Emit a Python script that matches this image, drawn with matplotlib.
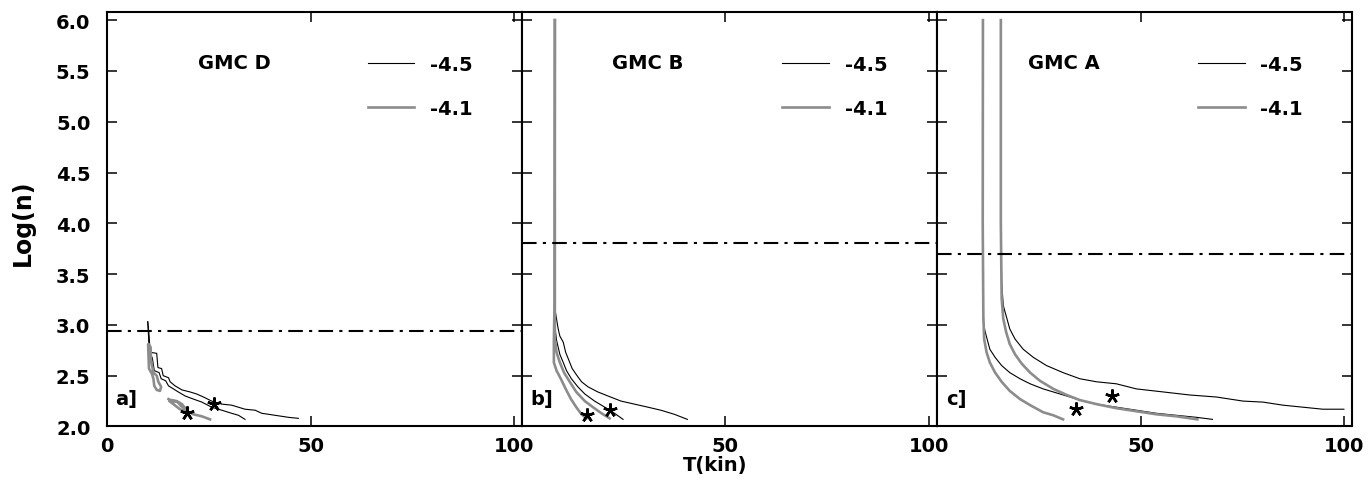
import matplotlib
matplotlib.use('Agg')
import matplotlib.pyplot as plt

# GMC D
D_t_hi = [10.0, 10.3, 10.6, 12.2, 12.5, 13.4, 13.8, 15.1, 15.5, 16.7, 18.4, 20.4, 22.0, 23.7, 25.7, 28.2, 30.6, 33.9, 36.4, 38.0, 41.3, 44.6, 47.0]
D_n_hi = [3.03, 2.91, 2.73, 2.72, 2.58, 2.57, 2.50, 2.48, 2.44, 2.40, 2.36, 2.34, 2.32, 2.29, 2.25, 2.22, 2.21, 2.17, 2.16, 2.13, 2.11, 2.09, 2.08]
D_t_lo = [10.0, 10.2, 10.3, 11.1, 11.6, 12.8, 13.3, 14.4, 15.1, 16.3, 17.5, 19.2, 21.2, 23.3, 25.7, 28.2, 30.6, 32.3, 33.9]
D_n_lo = [3.03, 2.88, 2.71, 2.68, 2.55, 2.53, 2.47, 2.45, 2.40, 2.37, 2.34, 2.30, 2.27, 2.24, 2.19, 2.16, 2.13, 2.11, 2.07]
D_t_g1 = [10.1, 10.2, 10.3, 11.0, 11.4, 11.6, 12.2, 13.0, 13.3, 12.6, 12.2, 11.4, 10.8, 10.7, 10.2]
D_n_g1 = [2.80, 2.68, 2.57, 2.52, 2.47, 2.40, 2.36, 2.35, 2.39, 2.44, 2.50, 2.53, 2.65, 2.78, 2.81]
D_t_g2 = [15.1, 16.1, 17.4, 18.2, 19.2, 18.4, 17.1, 15.9, 15.3, 16.3, 17.9, 19.6, 21.2, 23.3, 25.3]
D_n_g2 = [2.27, 2.25, 2.24, 2.20, 2.18, 2.22, 2.25, 2.26, 2.25, 2.22, 2.17, 2.15, 2.12, 2.10, 2.07]
D_star_t = [26.3, 19.6]
D_star_n = [2.22, 2.13]
D_crit = 2.94

# GMC B
B_t_hi = [8.14, 8.14, 8.55, 8.96, 9.37, 10.2, 10.8, 11.6, 12.4, 13.6, 14.7, 16.3, 18.7, 21.2, 24.4, 27.7, 31.0, 34.2, 37.5, 40.7]
B_n_hi = [6.0, 3.16, 3.06, 2.96, 2.89, 2.83, 2.73, 2.65, 2.57, 2.50, 2.44, 2.39, 2.34, 2.30, 2.25, 2.22, 2.19, 2.16, 2.12, 2.07]
B_t_lo = [8.14, 8.14, 8.55, 9.37, 10.2, 11.0, 12.2, 13.8, 15.5, 17.9, 20.4, 22.8, 24.9]
B_n_lo = [6.0, 2.99, 2.85, 2.71, 2.63, 2.55, 2.47, 2.39, 2.32, 2.25, 2.19, 2.13, 2.07]
B_t_g1 = [8.14, 8.14, 8.55, 9.37, 10.4, 11.8, 13.4, 15.5, 17.5, 19.6, 21.6]
B_n_g1 = [6.0, 2.86, 2.73, 2.63, 2.53, 2.44, 2.34, 2.25, 2.19, 2.13, 2.08]
B_t_g2 = [8.14, 8.05, 7.9, 7.9, 8.55, 9.6, 10.8, 12.1, 13.4, 14.7, 15.9]
B_n_g2 = [6.0, 3.2, 2.83, 2.63, 2.55, 2.47, 2.37, 2.27, 2.19, 2.12, 2.08]
B_star_t = [16.1, 21.8]
B_star_n = [2.11, 2.16]
B_crit = 3.81

# GMC A
A_t_b1 = [11.2, 11.15, 11.3, 11.7, 12.3, 12.9, 14.2, 15.8, 17.8, 20.3, 22.8, 26.0, 29.3, 32.6, 35.8, 39.1, 44.0, 48.9, 53.8, 58.7, 63.7, 67.6]
A_n_b1 = [6.0, 4.0, 3.03, 2.94, 2.85, 2.76, 2.68, 2.60, 2.53, 2.47, 2.42, 2.37, 2.33, 2.29, 2.25, 2.22, 2.19, 2.16, 2.13, 2.11, 2.09, 2.07]
A_t_b2 = [15.6, 15.6, 15.8, 16.2, 16.9, 17.8, 19.1, 21.1, 23.6, 26.8, 30.9, 35.0, 39.1, 44.0, 48.9, 55.5, 62.0, 68.6, 75.1, 80.0, 84.9, 89.8, 94.7, 99.9]
A_n_b2 = [6.0, 4.0, 3.42, 3.19, 3.09, 2.96, 2.86, 2.76, 2.68, 2.60, 2.53, 2.47, 2.44, 2.42, 2.37, 2.34, 2.31, 2.29, 2.25, 2.24, 2.21, 2.19, 2.17, 2.17]
A_t_g1 = [11.2, 11.15, 11.3, 11.5, 12.1, 12.9, 14.2, 15.8, 17.8, 20.3, 22.8, 26.0, 28.5, 30.9]
A_n_g1 = [6.0, 4.0, 3.09, 2.86, 2.73, 2.63, 2.53, 2.44, 2.35, 2.27, 2.21, 2.14, 2.11, 2.07]
A_t_g2 = [15.6, 15.6, 15.8, 16.2, 16.9, 17.8, 19.1, 20.7, 22.8, 25.2, 28.5, 31.8, 35.0, 39.1, 44.0, 48.9, 53.8, 58.7, 63.9]
A_n_g2 = [6.0, 4.0, 3.26, 3.06, 2.93, 2.81, 2.71, 2.62, 2.53, 2.45, 2.37, 2.31, 2.26, 2.22, 2.18, 2.15, 2.12, 2.10, 2.07]
A_star_t = [42.8, 34.0]
A_star_n = [2.30, 2.17]
A_crit = 3.70

labels = ['-4.5', '-4.1']
names = ['GMC D', 'GMC B', 'GMC A']
tags = ['a]', 'b]', 'c]']
yticks = [2.0, 2.5, 3.0, 3.5, 4.0, 4.5, 5.0, 5.5, 6.0]
xticks = [0, 50, 100]

GRAY = '#8c8c8c'

plt.rcParams['font.family'] = 'DejaVu Sans'
plt.rcParams['font.weight'] = 'bold'

paineis = [
    ([(D_t_hi, D_n_hi), (D_t_lo, D_n_lo)], [(D_t_g1, D_n_g1), (D_t_g2, D_n_g2)], (D_star_t, D_star_n), D_crit),
    ([(B_t_hi, B_n_hi), (B_t_lo, B_n_lo)], [(B_t_g1, B_n_g1), (B_t_g2, B_n_g2)], (B_star_t, B_star_n), B_crit),
    ([(A_t_b1, A_n_b1), (A_t_b2, A_n_b2)], [(A_t_g1, A_n_g1), (A_t_g2, A_n_g2)], (A_star_t, A_star_n), A_crit),
]

fig = plt.figure(figsize=(13.69, 4.85), dpi=100)
lefts = [0.0782, 0.3811, 0.6847]

for i, (pretas, cinzas, estrelas, crit) in enumerate(paineis):
    ax = fig.add_axes([lefts[i], 0.1186, 0.3032, 0.8546])

    # curvas pretas (-4.5) por baixo, cinzas (-4.1) por cima
    for k, (t, n) in enumerate(pretas):
        ax.plot(t, n, color='black', lw=0.8, label=labels[0] if k == 0 else None)
    for k, (t, n) in enumerate(cinzas):
        ax.plot(t, n, color=GRAY, lw=1.9, label=labels[1] if k == 0 else None)

    ax.plot(estrelas[0], estrelas[1], ls='none', marker=(5, 2, 0), ms=10, mew=1.8, color='black')
    ax.axhline(crit, color='black', lw=1.5, ls=(0, (7, 3, 1.5, 3)))

    ax.set_xlim(0, 102)
    ax.set_ylim(2.0, 6.08)
    ax.set_xticks(xticks)
    ax.set_yticks(yticks)
    if i == 0:
        ax.set_xticklabels([str(v) for v in xticks])
        ax.set_yticklabels([f'{v:.1f}' for v in yticks])
    else:
        ax.set_xticklabels([''] + [str(v) for v in xticks[1:]])
        ax.set_yticklabels([])

    ax.tick_params(direction='in', length=7, width=1.1, top=True, right=True, labelsize=14)
    ax.tick_params(axis='y', pad=12)
    ax.tick_params(axis='x', pad=7)
    for s in ax.spines.values():
        s.set_linewidth(1.5)

    ax.text(0.218, 0.877, names[i], transform=ax.transAxes, ha='left', va='center', fontsize=14)
    ax.text(0.02, 0.068, tags[i], transform=ax.transAxes, ha='left', va='center', fontsize=14)
    ax.legend(loc='upper left', bbox_to_anchor=(0.628, 0.897), frameon=False, fontsize=14,
              handlelength=2.4, handletextpad=0.8, labelspacing=1.3, borderpad=0, borderaxespad=0)

fig.text(23 / 1369, 0.54, 'Log(n)', rotation=90, ha='center', va='center', fontsize=17)
fig.text(715 / 1369, 0.04, 'T(kin)', ha='center', va='center', fontsize=14)

fig.savefig('out.png', dpi=100)
